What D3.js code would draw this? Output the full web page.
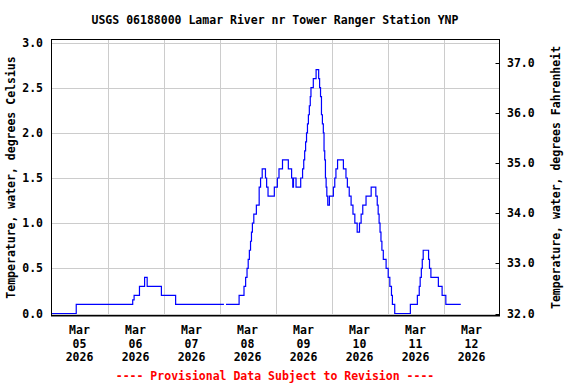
<!DOCTYPE html>
<html>
<head>
<meta charset="utf-8">
<script src="https://cdn.jsdelivr.net/npm/d3@7"></script>
<style>
  body { margin: 0; background: #fff; }
  text { font-family: "DejaVu Sans Mono", monospace; font-size: 11.5px; }
</style>
</head>
<body>
<svg id="chart" width="576" height="384"></svg>
<script>
// Hours since 2026-03-05 00:00 and water temperature (deg C), step readings
const hours = [0, 10.6, 34.8, 35.4, 37.7, 39.9, 41.0, 47.1, 53.2, 73.9, 74.0,
  74.8, 80.4, 82.5, 83.2, 83.8, 84.3, 84.8, 85.3, 85.7, 86.1, 86.7, 87.8, 89.0,
  89.6, 90.3, 91.7, 92.2, 92.8, 95.5, 96.8, 97.5, 99.0, 101.5, 102.9, 103.4,
  103.7, 104.8, 106.8, 107.6, 108.1, 108.5, 108.9, 109.3, 109.7, 110.1, 110.5,
  110.9, 111.2, 112.2, 113.4, 114.5, 114.9, 115.3, 115.7, 116.1, 116.5, 116.8,
  117.1, 117.4, 117.7, 118.0, 118.4, 119.1, 120.8, 121.4, 121.9, 122.6, 125.1,
  126.2, 126.8, 127.6, 128.4, 129.2, 130.0, 131.0, 132.0, 132.7, 133.4, 134.8,
  137.0, 139.0, 139.6, 140.0, 140.4, 140.8, 141.2, 141.6, 142.2, 143.4, 144.3,
  145.0, 145.7, 146.1, 147.1, 153.8, 156.8, 157.6, 158.0, 158.5, 158.9, 159.3,
  161.6, 162.0, 162.6, 165.8, 167.4, 169.0, 175.4];
const tempC = [0.0, 0.1, 0.15, 0.2, 0.3, 0.4, 0.3, 0.2, 0.1, 0.1, null,
  0.1, 0.2, 0.3, 0.4, 0.5, 0.6, 0.7, 0.8, 0.9, 1.0, 1.1, 1.2, 1.4,
  1.5, 1.6, 1.5, 1.4, 1.3, 1.4, 1.5, 1.6, 1.7, 1.6, 1.5, 1.4,
  1.5, 1.4, 1.5, 1.6, 1.7, 1.8, 1.9, 2.0, 2.1, 2.2, 2.3,
  2.4, 2.5, 2.6, 2.7, 2.6, 2.5, 2.4, 2.2, 2.1, 2.0, 1.8,
  1.7, 1.5, 1.4, 1.3, 1.2, 1.3, 1.4, 1.5, 1.6, 1.7, 1.6,
  1.5, 1.4, 1.3, 1.2, 1.1, 1.0, 0.9, 1.0, 1.1, 1.2, 1.3,
  1.4, 1.3, 1.2, 1.1, 1.0, 0.9, 0.8, 0.7, 0.6, 0.5, 0.4,
  0.3, 0.2, 0.1, 0.0, 0.1, 0.2, 0.3, 0.4, 0.5, 0.6, 0.7,
  0.6, 0.5, 0.4, 0.3, 0.2, 0.1, 0.1];

const dayLabels = ["05", "06", "07", "08", "09", "10", "11", "12"];
const celsiusTicks = [0, 0.5, 1.0, 1.5, 2.0, 2.5, 3.0];
const fahrenheitTicks = [32, 33, 34, 35, 36, 37];

const title = "USGS 06188000 Lamar River nr Tower Ranger Station YNP";
const leftTitle = "Temperature, water, degrees Celsius";
const rightTitle = "Temperature, water, degrees Fahrenheit";
const footer = "---- Provisional Data Subject to Revision ----";

const start = Date.UTC(2026, 2, 5);
const hourMs = 3600 * 1000;

const svg = d3.select("#chart");
const plot = { left: 51.5, right: 499.5, top: 39.5, bottom: 315.5 };

const x = d3.scaleUtc()
  .domain([new Date(start), new Date(start + 8 * 24 * hourMs)])
  .range([plot.left, plot.right]);
const y = d3.scaleLinear().domain([0, 3]).range([313.5, 42.5]);
const yF = d3.scaleLinear().domain([32, 37]).range([y(0), y(5 / 9 * 5)]);

const data = hours.map((h, i) => ({ t: new Date(start + h * hourMs), v: tempC[i] }));

// grid
const grid = svg.append("g").attr("stroke", "#cccccc").attr("stroke-width", 1);
celsiusTicks.forEach(c => {
  grid.append("line")
    .attr("x1", plot.left).attr("x2", plot.right)
    .attr("y1", Math.round(y(c)) + 0.5).attr("y2", Math.round(y(c)) + 0.5);
});
d3.range(1, 8).forEach(d => {
  const xx = Math.round(x(new Date(start + d * 24 * hourMs))) + 0.5;
  grid.append("line")
    .attr("x1", xx).attr("x2", xx)
    .attr("y1", plot.top).attr("y2", plot.bottom);
});

// series
const line = d3.line()
  .defined(d => d.v !== null)
  .curve(d3.curveStepAfter)
  .x(d => x(d.t))
  .y(d => y(d.v));

svg.append("path")
  .datum(data)
  .attr("fill", "none")
  .attr("stroke", "#0000ff")
  .attr("stroke-width", 1.2)
  .attr("d", line);

// frame
svg.append("rect")
  .attr("x", plot.left).attr("y", plot.top)
  .attr("width", plot.right - plot.left).attr("height", plot.bottom - plot.top)
  .attr("fill", "none").attr("stroke", "#000").attr("stroke-width", 1);
svg.append("line")
  .attr("x1", plot.left - 0.5).attr("x2", plot.right + 0.5)
  .attr("y1", plot.bottom + 0.5).attr("y2", plot.bottom + 0.5)
  .attr("stroke", "#000").attr("stroke-width", 1);

// left axis labels
svg.append("g").selectAll("text")
  .data(celsiusTicks).join("text")
  .attr("x", 43).attr("y", d => y(d))
  .attr("dy", "0.35em")
  .attr("text-anchor", "end")
  .attr("font-weight", "bold")
  .text(d => d.toFixed(1));

// right axis ticks and labels
const rAxis = svg.append("g");
rAxis.selectAll("line")
  .data(fahrenheitTicks).join("line")
  .attr("x1", plot.right - 4).attr("x2", plot.right)
  .attr("y1", d => Math.round(yF(d)) + 0.5).attr("y2", d => Math.round(yF(d)) + 0.5)
  .attr("stroke", "#000");
rAxis.selectAll("text")
  .data(fahrenheitTicks).join("text")
  .attr("x", 507).attr("y", d => yF(d))
  .attr("dy", "0.35em")
  .attr("font-weight", "bold")
  .text(d => d.toFixed(1));

// x labels at noon
const xl = svg.append("g").attr("font-weight", "bold").attr("text-anchor", "middle");
dayLabels.forEach((lab, i) => {
  const cx = x(new Date(start + (i * 24 + 12) * hourMs));
  const t = xl.append("text").attr("x", cx).attr("y", 334);
  t.append("tspan").attr("x", cx).text("Mar");
  t.append("tspan").attr("x", cx).attr("dy", 13.5).text(lab);
  t.append("tspan").attr("x", cx).attr("dy", 13.5).text("2026");
});

// titles
const midY = (plot.top + plot.bottom) / 2;
svg.append("text")
  .attr("x", 275).attr("y", 24)
  .attr("text-anchor", "middle")
  .attr("font-weight", "bold")
  .text(title);
svg.append("text")
  .attr("transform", `translate(15,${midY}) rotate(-90)`)
  .attr("text-anchor", "middle")
  .attr("font-weight", "bold")
  .text(leftTitle);
svg.append("text")
  .attr("transform", `translate(560,${midY}) rotate(-90)`)
  .attr("text-anchor", "middle")
  .attr("font-weight", "bold")
  .text(rightTitle);
svg.append("text")
  .attr("x", 275).attr("y", 380)
  .attr("text-anchor", "middle")
  .attr("font-weight", "bold")
  .attr("fill", "#ff0000")
  .text(footer);
</script>
</body>
</html>
